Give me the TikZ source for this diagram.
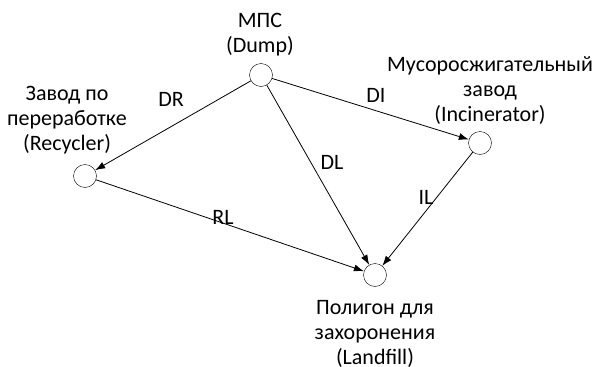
\documentclass[tikz,border=0pt]{standalone}
\usepackage{fontspec}
\setmainfont{Carlito}
\usetikzlibrary{arrows.meta}

\tikzset{
  site/.style={draw, circle, minimum size=23pt, inner sep=0pt},
  sitelbl/.style={align=center, inner sep=0pt, font=\fontsize{22}{25}\selectfont},
  flowlbl/.style={inner sep=0pt, font=\fontsize{22}{25}\selectfont},
  flow/.style={-{Latex[length=10pt,width=7pt]}, line width=0.8pt}
}

\begin{document}
\begin{tikzpicture}[x=1pt,y=-1pt]
    \useasboundingbox (0,0) rectangle (595,367);
    % sites
    \node[site] (dump) at (261,75) {};
    \node[site] (recyc) at (85,176) {};
    \node[site] (incin) at (480,143) {};
    \node[site] (landf) at (375,275) {};
    % site labels
    \node[sitelbl] (dumplbl) at (260,35) {МПС\\(Dump)};
    \node[sitelbl] (recyclbl) at (67,120) {Завод по\\переработке\\(Recycler)};
    \node[sitelbl] (incinlbl) at (490,91) {Мусоросжигательный\\завод\\(Incinerator)};
    \node[sitelbl] (landflbl) at (375,334) {Полигон для\\захоронения\\(Landfill)};
    % flows
    \draw[flow] (dump) -- (recyc);
    \draw[flow] (dump) -- (incin);
    \draw[flow] (dump) -- (landf);
    \draw[flow] (recyc) -- (landf);
    \draw[flow] (incin) -- (landf);
    % flow labels
    \node[flowlbl] (lblDR) at (171,99) {DR};
    \node[flowlbl] (lblDI) at (376,95) {DI};
    \node[flowlbl] (lblDL) at (332,162) {DL};
    \node[flowlbl] (lblIL) at (426,197) {IL};
    \node[flowlbl] (lblRL) at (223,217) {RL};
\end{tikzpicture}
\end{document}
